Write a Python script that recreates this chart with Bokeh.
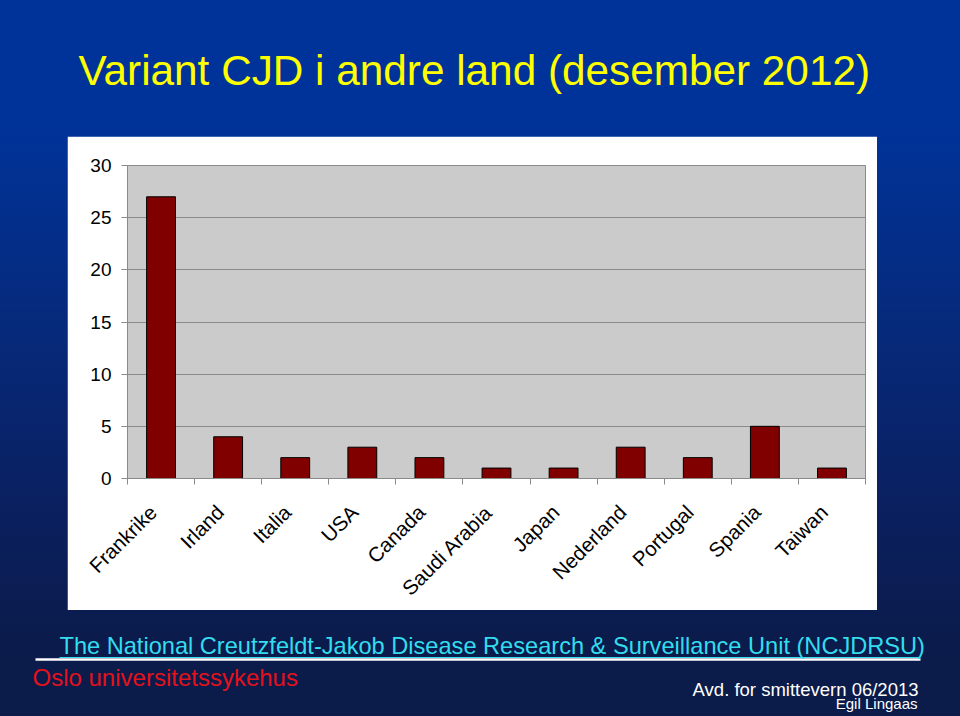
import math
from bokeh.plotting import figure
from bokeh.models import Range1d, FixedTicker, Label, Spacer
from bokeh.layouts import column, row
from bokeh.embed import file_html
from bokeh.resources import INLINE

# ---------------- data ----------------
countries = ["Frankrike", "Irland", "Italia", "USA", "Canada", "Saudi Arabia",
             "Japan", "Nederland", "Portugal", "Spania", "Taiwan"]
cases = [27, 4, 2, 3, 2, 1, 1, 3, 2, 5, 1]
y_ticks = [0, 5, 10, 15, 20, 25, 30]

title_text = "Variant CJD i andre land (desember 2012)"
source_text = "The National Creutzfeldt-Jakob Disease Research & Surveillance Unit (NCJDRSU)"
org_text = "Oslo universitetssykehus"
dept_text = "Avd. for smittevern 06/2013"
author_text = "Egil Lingaas"

FONT = "Liberation Sans"
LABEL_SHIFT = 0.12  # category-label anchor shift (fraction of a category width)


def blank(width, height):
    f = figure(width=width, height=height,
               x_range=Range1d(0, width), y_range=Range1d(height, 0),
               output_backend="svg", toolbar_location=None,
               x_axis_location=None, y_axis_location=None, min_border=0)
    f.grid.visible = False
    f.outline_line_color = None
    f.background_fill_alpha = 0
    f.border_fill_alpha = 0
    return f


# ---------------- title ----------------
top = blank(960, 136)
top.add_layout(Label(x=78, y=70, text=title_text, text_font=FONT,
                     text_font_size="42.3px", text_color="#ffff00",
                     text_baseline="alphabetic", text_align="left"))

# ---------------- chart ----------------
n = len(countries)
xs = list(range(n))
p = figure(width=810, height=474,
           x_range=Range1d(-0.5, n - 0.5), y_range=Range1d(0, 30),
           output_backend="svg", toolbar_location=None,
           min_border_left=60, min_border_right=12,
           min_border_top=29, min_border_bottom=131)
p.background_fill_color = "#cbcbcb"
p.border_fill_color = "white"
p.outline_line_color = "#8a8a8a"

p.vbar(x=xs, top=cases, bottom=0, width=0.43,
       fill_color="#800000", line_color="black", line_width=1)

p.xgrid.visible = False
p.ygrid.ticker = FixedTicker(ticks=y_ticks)
p.ygrid.grid_line_color = "#8a8a8a"
p.ygrid.grid_line_width = 1

ya = p.yaxis[0]
ya.ticker = FixedTicker(ticks=y_ticks)
ya.axis_line_color = "#8a8a8a"
ya.major_tick_line_color = "#8a8a8a"
ya.major_tick_out = 6
ya.major_tick_in = 0
ya.minor_tick_line_color = None
ya.major_label_text_font = FONT
ya.major_label_text_font_size = "19px"
ya.major_label_text_color = "black"
ya.major_label_standoff = 10

label_pos = [round(i - LABEL_SHIFT, 3) for i in xs]
xa = p.xaxis[0]
xa.ticker = FixedTicker(ticks=label_pos, minor_ticks=[i - 0.5 for i in range(n + 1)])
xa.major_label_overrides = {pos: c for pos, c in zip(label_pos, countries)}
xa.axis_line_color = "#8a8a8a"
xa.major_tick_line_color = None
xa.minor_tick_line_color = "#8a8a8a"
xa.minor_tick_out = 6
xa.minor_tick_in = 0
xa.major_label_orientation = math.pi / 4
xa.major_label_text_font = FONT
xa.major_label_text_font_size = "20.5px"
xa.major_label_text_color = "black"
xa.major_label_standoff = 24

# ---------------- footer ----------------
foot = blank(960, 106)
foot.segment(x0=[35], y0=[49], x1=[920], y1=[49], line_color="white", line_width=2.5)
foot.segment(x0=[59], y0=[47], x1=[920], y1=[47], line_color="#33ddee", line_width=1)
foot.add_layout(Label(x=59, y=35.5, text=source_text, text_font=FONT,
                      text_font_size="23.6px", text_color="#33ddee",
                      text_baseline="alphabetic"))
foot.add_layout(Label(x=32, y=67, text=org_text, text_font=FONT,
                      text_font_size="24px", text_color="#e3121b",
                      text_baseline="alphabetic"))
foot.add_layout(Label(x=918, y=79, text=dept_text, text_font=FONT,
                      text_font_size="18.5px", text_color="white",
                      text_baseline="alphabetic", text_align="right"))
foot.add_layout(Label(x=917, y=92.5, text=author_text, text_font=FONT,
                      text_font_size="15px", text_color="white",
                      text_baseline="alphabetic", text_align="right"))

layout = column(
    top,
    row(Spacer(width=67, height=474), p, Spacer(width=83, height=474)),
    foot,
    styles={"background": "linear-gradient(180deg, #003399 0%, #003399 17%, "
                          "#062a7c 45%, #0a2060 70%, #0b1b4b 90%, #0b1b4a 100%)"},
)

with open("out.html", "w") as fh:
    fh.write(file_html(layout, INLINE))
